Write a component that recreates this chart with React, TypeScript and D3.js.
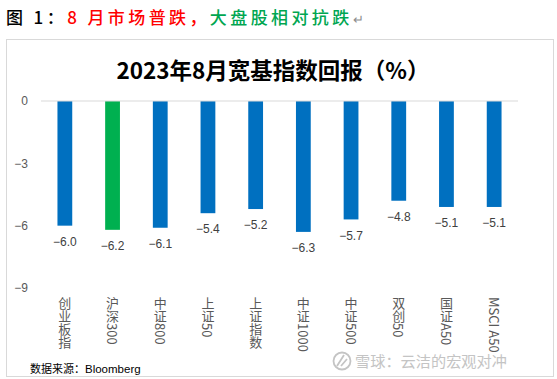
import React from "react";
import * as d3 from "d3";

const categories = ["创业板指", "沪深300", "中证800", "上证50", "上证指数", "中证1000", "中证500", "双创50", "国证A50", "MSCI A50"];
const values = [-6.0, -6.2, -6.1, -5.4, -5.2, -6.3, -5.7, -4.8, -5.1, -5.1];
const highlight = ["沪深300"];
const yTicks = [0, -3, -6, -9];

const W = 557;
const H = 379;
const CJK = "'Noto Sans CJK SC', 'Noto Sans', sans-serif";
const NUM = "'Liberation Sans Narrow', 'Liberation Sans', Arial, sans-serif";

export default function App() {
  const x = d3.scaleBand<string>().domain(categories).range([41, 518]).paddingInner(0.69).paddingOuter(0.345);
  const y = d3.scaleLinear().domain([0, -9]).range([101, 288]);
  return (
    <svg width={W} height={H} style={{ position: "absolute", left: 0, top: 0 }}>
      <rect x={0} y={0} width={W} height={H} fill="#fff" />
      {/* caption */}
      <text x={6} y={24} fontFamily={CJK} fontSize={17} letterSpacing={3.4} fontWeight={500}>
        <tspan fill="#000">图 1：</tspan>
        <tspan fill="#ff0000">8 月市场普跌，</tspan>
        <tspan fill="#00a651">大盘股相对抗跌</tspan>
        <tspan fill="#8c8c8c" fontSize={13} fontWeight={400}>↵</tspan>
      </text>
      {/* chart frame */}
      <rect x={6.5} y={39.5} width={547} height={337} fill="#fff" stroke="#d9d9d9" strokeWidth={1} />
      {/* title */}
      <text x={273} y={79} textAnchor="middle" fontFamily={CJK} fontSize={22.5} fontWeight={700} fill="#000">
        2023年8月宽基指数回报（%）
      </text>
      {/* y ticks */}
      {yTicks.map((t) => (
        <text key={t} x={28} y={y(t)} dy="0.35em" textAnchor="end" fontFamily={NUM} fontSize={12} fill="#595959">
          {d3.format("d")(t)}
        </text>
      ))}
      {/* bars */}
      {categories.map((c, i) => {
        const v = values[i];
        return (
          <rect key={c} x={x(c)} y={y(0)} width={x.bandwidth()} height={y(v) - y(0)}
            fill={highlight.includes(c) ? "#00b050" : "#0070c0"} />
        );
      })}
      {/* zero line */}
      <line x1={41} x2={518} y1={y(0)} y2={y(0)} stroke="#d9d9d9" strokeWidth={1} />
      {/* value labels */}
      {categories.map((c, i) => (
        <text key={c} x={(x(c) as number) + x.bandwidth() / 2} y={y(values[i]) + 16} dy="0.35em" textAnchor="middle"
          fontFamily={NUM} fontSize={12} fill="#404040">
          {d3.format(".1f")(values[i])}
        </text>
      ))}
      {/* category labels */}
      {categories.map((c) => (
        <text key={c} x={(x(c) as number) + x.bandwidth() / 2} y={297} writingMode="vertical-rl"
          style={{ writingMode: "vertical-rl", textOrientation: "mixed" } as any}
          fontFamily={CJK} fontSize={13} fill="#595959">
          {c}
        </text>
      ))}
      {/* source */}
      <text x={30} y={373} fontFamily={CJK} fontSize={11} fill="#000">
        数据来源：<tspan fontFamily={NUM} fontSize={11.5}>Bloomberg</tspan>
      </text>
      {/* watermark */}
      <g>
        <circle cx={342} cy={361} r={8.5} fill="none" stroke="#c4c4c4" strokeWidth={1.8} />
        <path d="M337,366 L344,355 M341,366 L347,359" stroke="#c4c4c4" strokeWidth={1.8} fill="none" />
        <text x={355} y={367} fontFamily={CJK} fontSize={15.2} fill="#c4c4c4">雪球：云洁的宏观对冲</text>
      </g>
    </svg>
  );
}
